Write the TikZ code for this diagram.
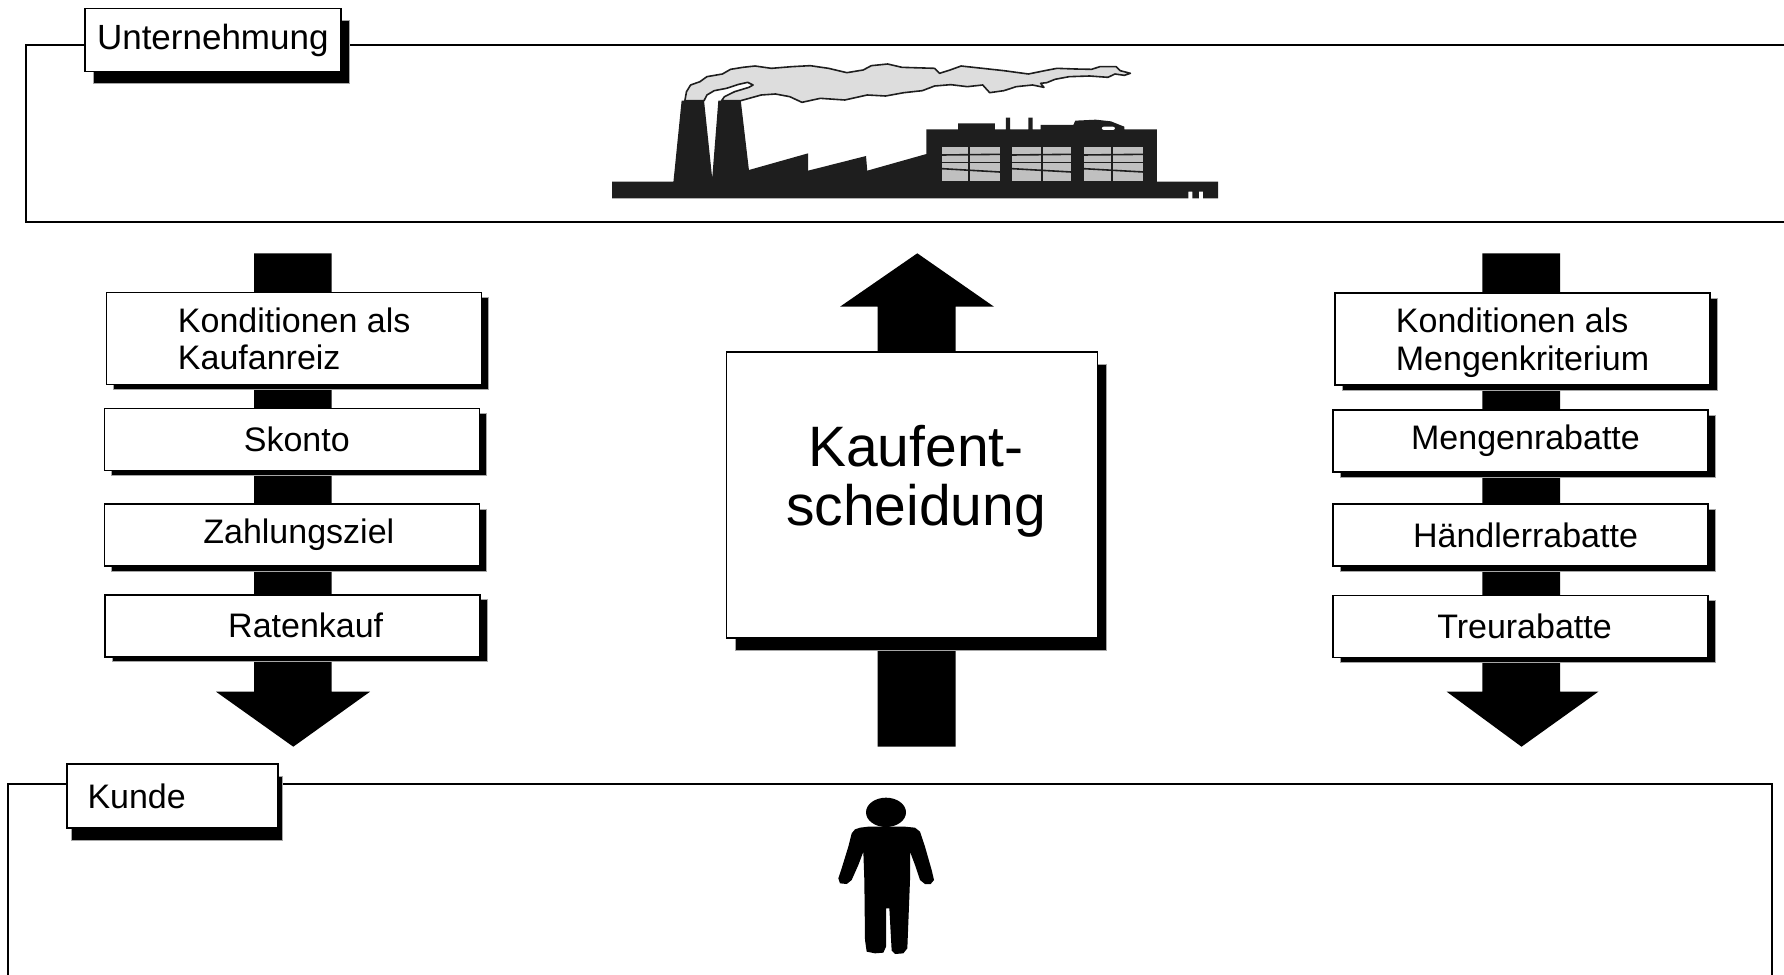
\documentclass[tikz,border=0pt]{standalone}
\usepackage{fontspec}
\setmainfont{Liberation Sans}
\usetikzlibrary{shadows}
\definecolor{ink}{HTML}{1E1E1E}
\definecolor{smoke}{HTML}{DDDDDD}
\definecolor{pane}{HTML}{C0C0C0}
\tikzset{
  frameline/.style={draw=black, line width=2pt},
  card/.style={draw=black, line width=1.5pt, fill=white, inner sep=0pt,
    font=\fontsize{34}{37.5}\selectfont},
  cardshadow/.style 2 args={drop shadow={shadow xshift=#1pt, shadow yshift=-#2pt,
    fill=black, draw=gray!70, line width=0.8pt, opacity=1}},
  nudge/.style={execute at begin node={\hspace*{#1}}},
  smallcard/.style={card, minimum width=375pt, minimum height=62pt, cardshadow={7}{5}},
  headcard/.style={card, minimum width=375pt, minimum height=92pt, align=left,
    text depth=0pt, cardshadow={7}{5}},
  blockarrow/.style={fill=black, draw=none},
  plant/.style={fill=ink, draw=none},
  fume/.style={fill=smoke, draw=ink, line width=1.6pt, line join=round},
  grid/.style={draw=ink, line width=1.6pt},
}
\begin{document}
\begin{tikzpicture}[x=1pt, y=-1pt]
\useasboundingbox (0,0) rectangle (1784,974);

% frames of the two areas
\draw[frameline] (1790,45) -- (26,45) -- (26,222) -- (1790,222);
\draw[frameline] (8.3,990) -- (8.3,784) -- (1771.5,784) -- (1771.5,990);

% factory with smoke
\begin{scope}[shift={(600,50)}, xscale=0.408, yscale=1/3]
  \filldraw[fume] (208,152) -- (212,125) -- (222,105) -- (245,95) -- (262,80) -- (300,72)
    -- (320,58) -- (350,52) -- (380,48) -- (420,55) -- (470,50) -- (515,47) -- (560,55)
    -- (605,68) -- (645,60) -- (665,47) -- (705,42) -- (740,52) -- (820,55) -- (832,70)
    -- (858,60) -- (885,48) -- (990,62) -- (1050,72) -- (1090,62) -- (1120,55)
    -- (1165,57) -- (1205,58) -- (1225,50) -- (1265,50) -- (1275,62) -- (1300,70)
    -- (1285,76) -- (1262,72) -- (1245,82) -- (1200,78) -- (1150,80) -- (1115,88)
    -- (1095,98) -- (1080,100) -- (1088,112) -- (1060,105) -- (1020,110) -- (990,122)
    -- (955,128) -- (938,105) -- (900,110) -- (860,104) -- (820,108) -- (790,122)
    -- (745,128) -- (700,138) -- (655,135) -- (600,150) -- (540,145) -- (495,157)
    -- (465,140) -- (430,132) -- (395,135) -- (345,152) -- (298,152) -- (305,140)
    -- (330,125) -- (365,112) -- (375,105) -- (362,97) -- (340,103) -- (310,115)
    -- (280,122) -- (262,135) -- (255,152) -- cycle;
  \fill[plant] (30,395) -- (180,395) -- (200,152) -- (255,152) -- (275,385) -- (290,152)
    -- (345,152) -- (365,360) -- (510,310) -- (510,362) -- (652,318) -- (655,362)
    -- (800,312) -- (800,238) -- (878,238) -- (878,220) -- (968,220) -- (968,238)
    -- (995,238) -- (995,203) -- (1005,203) -- (1005,238) -- (1050,238) -- (1050,203)
    -- (1060,203) -- (1060,238) -- (1080,238) -- (1080,225) -- (1160,225) -- (1165,212)
    -- (1215,209) -- (1252,214) -- (1285,230) -- (1285,238) -- (1365,238) -- (1365,395)
    -- (1515,395) -- (1515,445) -- (1478,445) -- (1478,425) -- (1468,425) -- (1468,445)
    -- (1452,445) -- (1452,425) -- (1442,425) -- (1442,445) -- (1415,445)
    -- (30,445) -- cycle;
  \fill[white, rounded corners=2pt] (1230,230) rectangle (1262,240);
  \foreach \a/\b/\m in {838/980/905, 1010/1155/1083, 1185/1332/1255}{
    \fill[pane] (\a,292) rectangle (\b,392);
    \draw[grid] (\m,292) -- (\m,392);
    \draw[grid] (\a,315) -- (\b,313);
    \draw[grid] (\a,338) -- (\b,338);
    \draw[grid] (\a,356) -- (\b,366);
  }
\end{scope}

% customer figure
\begin{scope}[shift={(800,780)}, scale=1/3]
  \fill[black] (258,97) ellipse [x radius=60, y radius=44];
  \fill[black] (165,148) -- (180,143) -- (205,140) -- (315,140) -- (345,143) -- (360,155)
    -- (375,200) -- (395,270) -- (402,300) -- (392,312) -- (375,312) -- (360,300)
    -- (345,255) -- (330,215) -- (330,300) -- (322,505) -- (310,520) -- (285,522)
    -- (275,512) -- (268,385) -- (258,385) -- (258,500) -- (250,518) -- (225,520)
    -- (200,515) -- (195,480) -- (193,300) -- (190,215) -- (175,255) -- (155,300)
    -- (140,312) -- (120,310) -- (115,295) -- (125,265) -- (145,200) -- (155,160) -- cycle;
\end{scope}

% block arrows
\fill[blockarrow] (254,253.3) -- (331.7,253.3) -- (331.7,691.7) -- (370,691.7)
  -- (293.3,746.7) -- (216,691.7) -- (254,691.7) -- cycle;
\fill[blockarrow] (1482.3,253.3) -- (1560,253.3) -- (1560,691.7) -- (1598.3,691.7)
  -- (1521.5,746.7) -- (1446.7,691.7) -- (1482.3,691.7) -- cycle;
\fill[blockarrow] (877.5,746.7) -- (955.5,746.7) -- (955.5,306.7) -- (994,306.7)
  -- (917.3,253.3) -- (840,306.7) -- (877.5,306.7) -- cycle;

% area labels
\node[card, font=\fontsize{35}{38}\selectfont, minimum width=256pt, minimum height=63pt,
  cardshadow={9}{12}] (firm) at (212.8,40) {Unternehmung};
\node[card, minimum width=211pt, minimum height=64pt, cardshadow={4.5}{12},
  text width=170pt, align=left] (client) at (172.5,796) {Kunde};

% left column
\node[headcard] (l1) at (294.2,338.5) {Konditionen als\\Kaufanreiz};
\node[smallcard, nudge=10pt] (l2) at (291.8,439.7) {Skonto};
\node[smallcard, nudge=14pt] (l3) at (291.8,535) {Zahlungsziel};
\node[smallcard, nudge=26pt] (l4) at (292.7,625.8) {Ratenkauf};

% right column
\node[headcard] (r1) at (1522.5,339) {Konditionen als\\Mengenkriterium};
\node[smallcard, nudge=10pt] (r2) at (1520.5,441) {Mengenrabatte};
\node[smallcard, nudge=10pt] (r3) at (1520.5,535) {Händlerrabatte};
\node[smallcard, nudge=8pt] (r4) at (1520.5,626.3) {Treurabatte};

% central decision
\node[card, minimum width=371pt, minimum height=286pt, cardshadow={9}{13}] (deal)
  at (912,494.8) {};
\node[font=\fontsize{57}{59.3}\selectfont, align=center, inner sep=0pt] (dealtext)
  at (916,481) {Kaufent-\\scheidung};
\end{tikzpicture}
\end{document}
